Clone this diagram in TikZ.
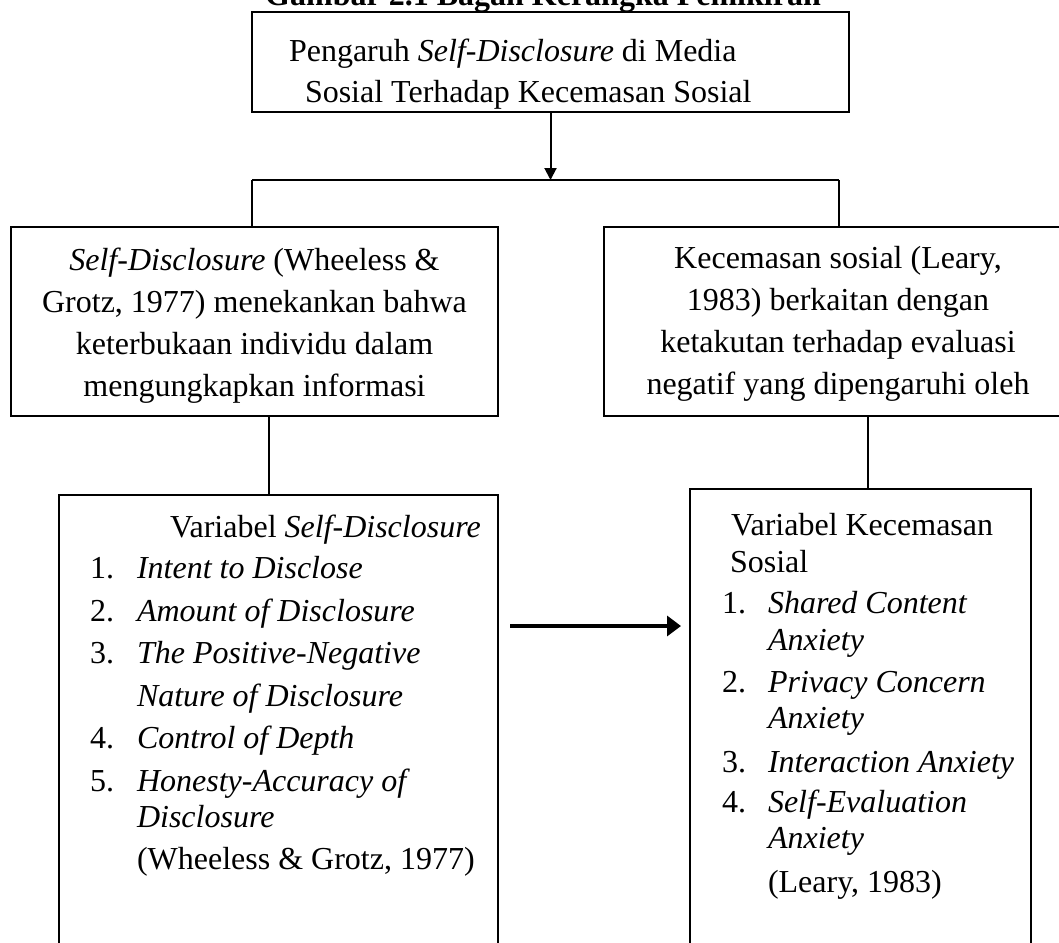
\documentclass[tikz,border=0pt]{standalone}
\usepackage{fontspec}
\setmainfont{Liberation Serif}
\usetikzlibrary{arrows.meta}
\begin{document}
\begin{tikzpicture}[x=1pt,y=-1pt,
  box/.style={draw, line width=2.6pt, inner sep=0pt, outer sep=0pt, anchor=north west},
  txt/.style={inner sep=0pt, outer sep=0pt, font=\fontsize{32}{40}\selectfont},
  lt/.style={txt, anchor=base west},
  ct/.style={txt, anchor=base},
  conn/.style={line width=1.2pt},
  varrow/.style={line width=2pt, -{Triangle[length=12pt,width=12pt]}},
  harrow/.style={line width=3.4pt, -{Triangle[length=14pt,width=20pt]}}]
\useasboundingbox (0,0) rectangle (1059,942);
\clip (0,0) rectangle (1059,942);
% title
\node[ct, font=\fontsize{32}{40}\selectfont\bfseries] (title) at (543,6) {Gambar 2.1 Bagan Kerangka Pemikiran};
% boxes
\node[box, minimum width=597pt, minimum height=100pt] (top) at (252,12) {};
\node[box, minimum width=487pt, minimum height=189pt] (lm) at (11,227) {};
\node[box, minimum width=468pt, minimum height=189pt] (rm) at (604,227) {};
\node[box, minimum width=439pt, minimum height=520pt] (ll) at (59,495) {};
\node[box, minimum width=341pt, minimum height=520pt] (rl) at (690,489) {};
% connector points
\coordinate (hl) at (252,180);
\coordinate (hr) at (839,180);
\coordinate (lmo) at (269,416);
\coordinate (rmo) at (868,416);
\coordinate (arS) at (510,626);
\coordinate (arE) at (681,626);
% connectors
\draw[varrow] (top.south) -- (top.south |- hl);
\draw[conn] (hl) -- (hr);
\draw[conn] (hl) -- (hl |- lm.north);
\draw[conn] (hr) -- (hr |- rm.north);
\draw[conn] (lmo) -- (lmo |- ll.north);
\draw[conn] (rmo) -- (rmo |- rl.north);
\draw[harrow] (arS) -- (arE);
% top box text
\node[lt] (t1) at (289,62) {Pengaruh \textit{Self-Disclosure} di Media};
\node[lt] (t2) at (305,102) {Sosial Terhadap Kecemasan Sosial};
% left middle box text
\node[ct] (l1) at (254.5,270) {\textit{Self-Disclosure} (Wheeless \&};
\node[ct] (l2) at (254.5,312) {Grotz, 1977) menekankan bahwa};
\node[ct] (l3) at (254.5,354) {keterbukaan individu dalam};
\node[ct] (l4) at (254.5,396) {mengungkapkan informasi};
% right middle box text
\node[ct] (r1) at (838,268) {Kecemasan sosial (Leary,};
\node[ct] (r2) at (838,310) {1983) berkaitan dengan};
\node[ct] (r3) at (838,352) {ketakutan terhadap evaluasi};
\node[ct] (r4) at (838,394) {negatif yang dipengaruhi oleh};
% lower left box text
\node[lt] (a0) at (170,537) {Variabel \textit{Self-Disclosure}};
\node[lt] (an1) at (90,578) {1.};
\node[lt] (an2) at (90,621) {2.};
\node[lt] (an3) at (90,663) {3.};
\node[lt] (an4) at (90,748) {4.};
\node[lt] (an5) at (90,791) {5.};
\node[lt] (a1) at (137,578) {\textit{Intent to Disclose}};
\node[lt] (a2) at (137,621) {\textit{Amount of Disclosure}};
\node[lt] (a3) at (137,663) {\textit{The Positive-Negative}};
\node[lt] (a3b) at (137,706) {\textit{Nature of Disclosure}};
\node[lt] (a4) at (137,748) {\textit{Control of Depth}};
\node[lt] (a5) at (137,791) {\textit{Honesty-Accuracy of}};
\node[lt] (a5b) at (137,827) {\textit{Disclosure}};
\node[lt] (aref) at (137,869) {(Wheeless \& Grotz, 1977)};
% lower right box text
\node[lt] (b0) at (731,535) {Variabel Kecemasan};
\node[lt] (b0b) at (730,572) {Sosial};
\node[lt] (bn1) at (722,613) {1.};
\node[lt] (bn2) at (722,692) {2.};
\node[lt] (bn3) at (722,772) {3.};
\node[lt] (bn4) at (722,812) {4.};
\node[lt] (b1) at (768,613) {\textit{Shared Content}};
\node[lt] (b1b) at (768,650) {\textit{Anxiety}};
\node[lt] (b2) at (768,692) {\textit{Privacy Concern}};
\node[lt] (b2b) at (768,728) {\textit{Anxiety}};
\node[lt] (b3) at (768,772) {\textit{Interaction Anxiety}};
\node[lt] (b4) at (768,812) {\textit{Self-Evaluation}};
\node[lt] (b4b) at (768,848) {\textit{Anxiety}};
\node[lt] (bref) at (768,892) {(Leary, 1983)};
\end{tikzpicture}
\end{document}
